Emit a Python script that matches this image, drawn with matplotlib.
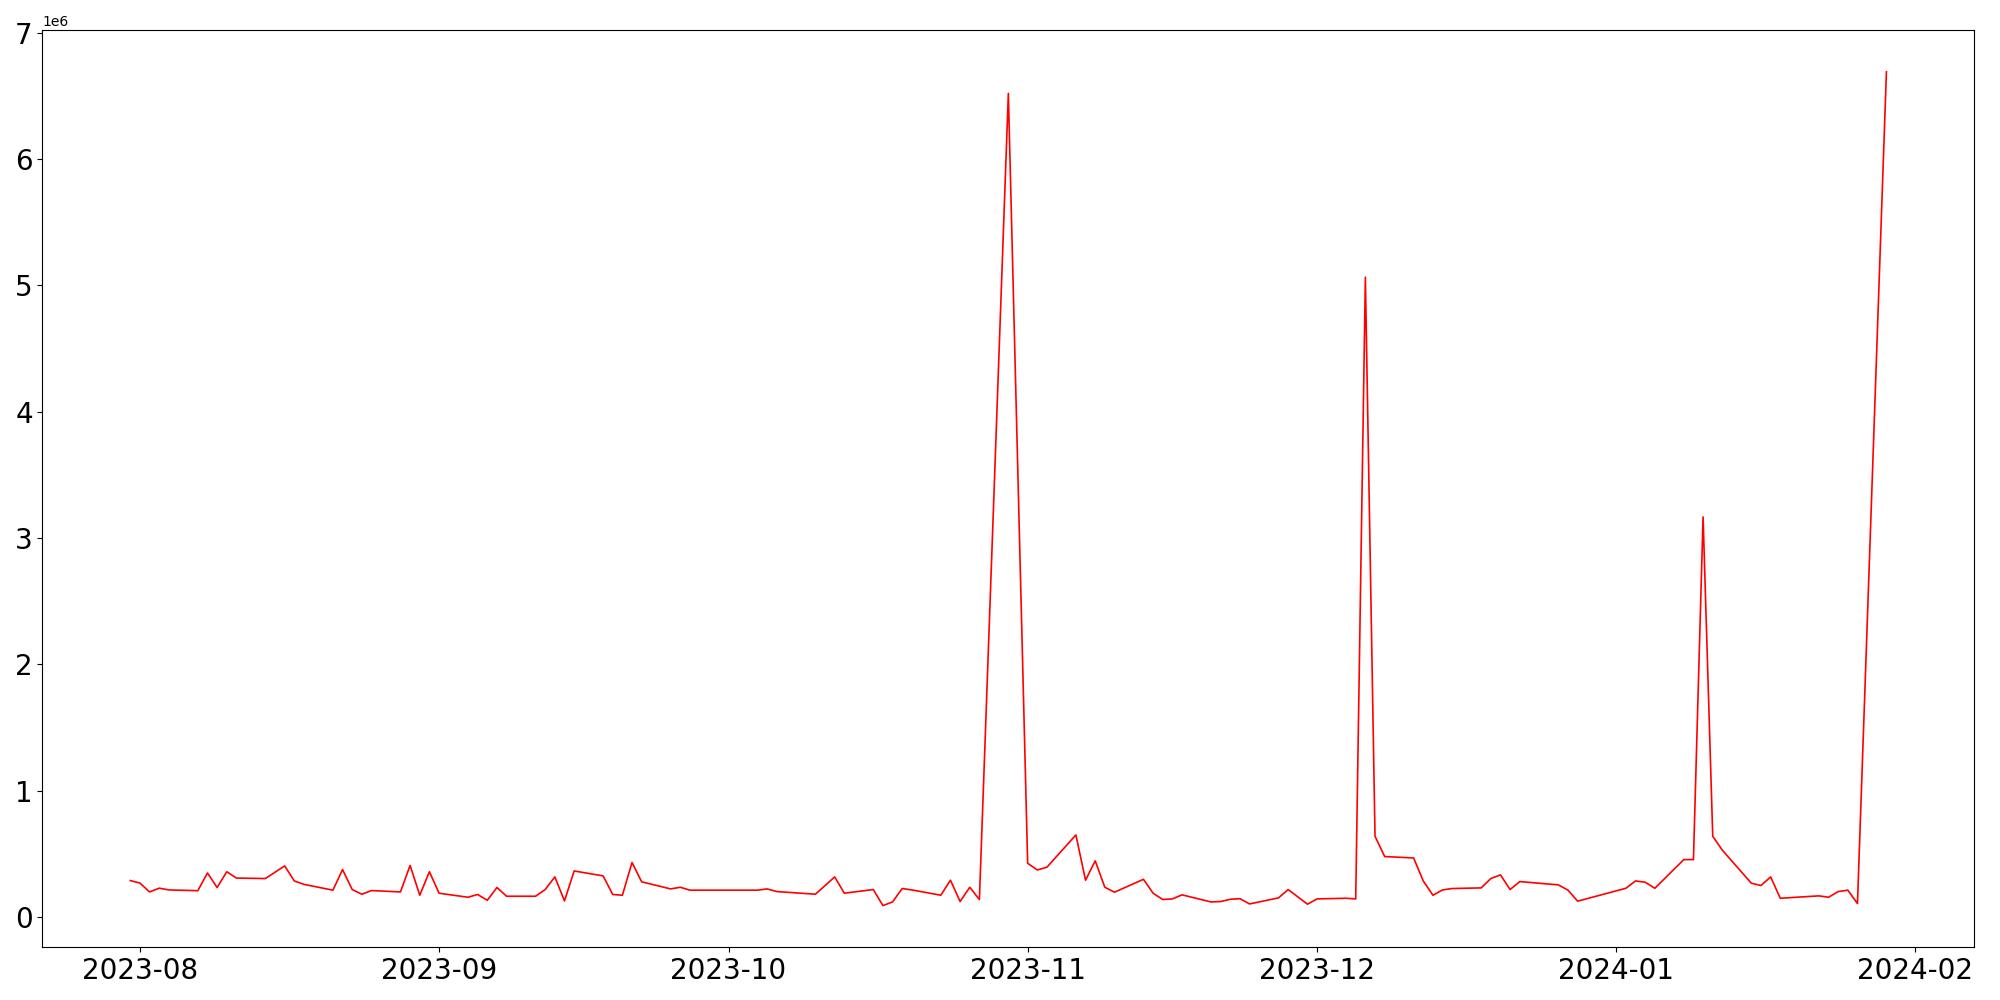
import numpy as np
import pandas as pd
import matplotlib
matplotlib.use("Agg")
from matplotlib import pyplot as plt

# daily values
dates = [
    "2023-07-31", "2023-08-01", "2023-08-02", "2023-08-03", "2023-08-04",
    "2023-08-07", "2023-08-08", "2023-08-09", "2023-08-10", "2023-08-11",
    "2023-08-14", "2023-08-16", "2023-08-17", "2023-08-18",
    "2023-08-21", "2023-08-22", "2023-08-23", "2023-08-24", "2023-08-25",
    "2023-08-28", "2023-08-29", "2023-08-30", "2023-08-31", "2023-09-01",
    "2023-09-04", "2023-09-05", "2023-09-06", "2023-09-07", "2023-09-08",
    "2023-09-11", "2023-09-12", "2023-09-13", "2023-09-14", "2023-09-15",
    "2023-09-18", "2023-09-19", "2023-09-20", "2023-09-21", "2023-09-22",
    "2023-09-25", "2023-09-26", "2023-09-27",
    "2023-10-04", "2023-10-05", "2023-10-06",
    "2023-10-10", "2023-10-11", "2023-10-12", "2023-10-13",
    "2023-10-16", "2023-10-17", "2023-10-18", "2023-10-19", "2023-10-20",
    "2023-10-23", "2023-10-24", "2023-10-25", "2023-10-26", "2023-10-27",
    "2023-10-30", "2023-11-01", "2023-11-02", "2023-11-03",
    "2023-11-06", "2023-11-07", "2023-11-08", "2023-11-09", "2023-11-10",
    "2023-11-13", "2023-11-14", "2023-11-15", "2023-11-16", "2023-11-17",
    "2023-11-20", "2023-11-21", "2023-11-22", "2023-11-23", "2023-11-24",
    "2023-11-27", "2023-11-28", "2023-11-30", "2023-12-01",
    "2023-12-04", "2023-12-05", "2023-12-06", "2023-12-07", "2023-12-08",
    "2023-12-11", "2023-12-12", "2023-12-13", "2023-12-14", "2023-12-15",
    "2023-12-18", "2023-12-19", "2023-12-20", "2023-12-21", "2023-12-22",
    "2023-12-26", "2023-12-27", "2023-12-28",
    "2024-01-02", "2024-01-03", "2024-01-04", "2024-01-05",
    "2024-01-08", "2024-01-09", "2024-01-10", "2024-01-11", "2024-01-12",
    "2024-01-15", "2024-01-16", "2024-01-17", "2024-01-18",
    "2024-01-22", "2024-01-23", "2024-01-24", "2024-01-25", "2024-01-26",
    "2024-01-29",
]

values = [
    0.290, 0.270, 0.200, 0.230, 0.216,
    0.210, 0.350, 0.235, 0.360, 0.310,
    0.306, 0.406, 0.287, 0.260,
    0.214, 0.377, 0.219, 0.182, 0.211,
    0.200, 0.410, 0.174, 0.360, 0.190,
    0.158, 0.180, 0.134, 0.235, 0.166,
    0.166, 0.219, 0.319, 0.129, 0.366,
    0.327, 0.180, 0.174, 0.433, 0.280,
    0.224, 0.237, 0.214,
    0.214, 0.224, 0.203,
    0.182, 0.250, 0.319, 0.190,
    0.219, 0.092, 0.121, 0.227, 0.216,
    0.174, 0.293, 0.124, 0.237, 0.140,
    6.520, 0.427, 0.374, 0.396,
    0.651, 0.293, 0.446, 0.237, 0.198,
    0.300, 0.190, 0.140, 0.145, 0.177,
    0.121, 0.124, 0.142, 0.147, 0.105,
    0.153, 0.219, 0.103, 0.145,
    0.150, 0.145, 5.065, 0.641, 0.480,
    0.469, 0.287, 0.174, 0.216, 0.227,
    0.232, 0.306, 0.335, 0.219, 0.282,
    0.256, 0.214, 0.127,
    0.229, 0.287, 0.277, 0.229,
    0.456, 0.456, 3.168, 0.641, 0.530,
    0.269, 0.251, 0.319, 0.150,
    0.169, 0.158, 0.203, 0.214, 0.108,
    6.690,
]

x = pd.to_datetime(dates)
y = np.array(values) * 1e6

fig, ax = plt.subplots(figsize=(20, 10), dpi=100)
ax.plot(x, y, color='red', linewidth=1.2)
ax.tick_params(axis='both', labelsize=20)
fig.tight_layout()
fig.savefig("out.png")
plt.close(fig)
